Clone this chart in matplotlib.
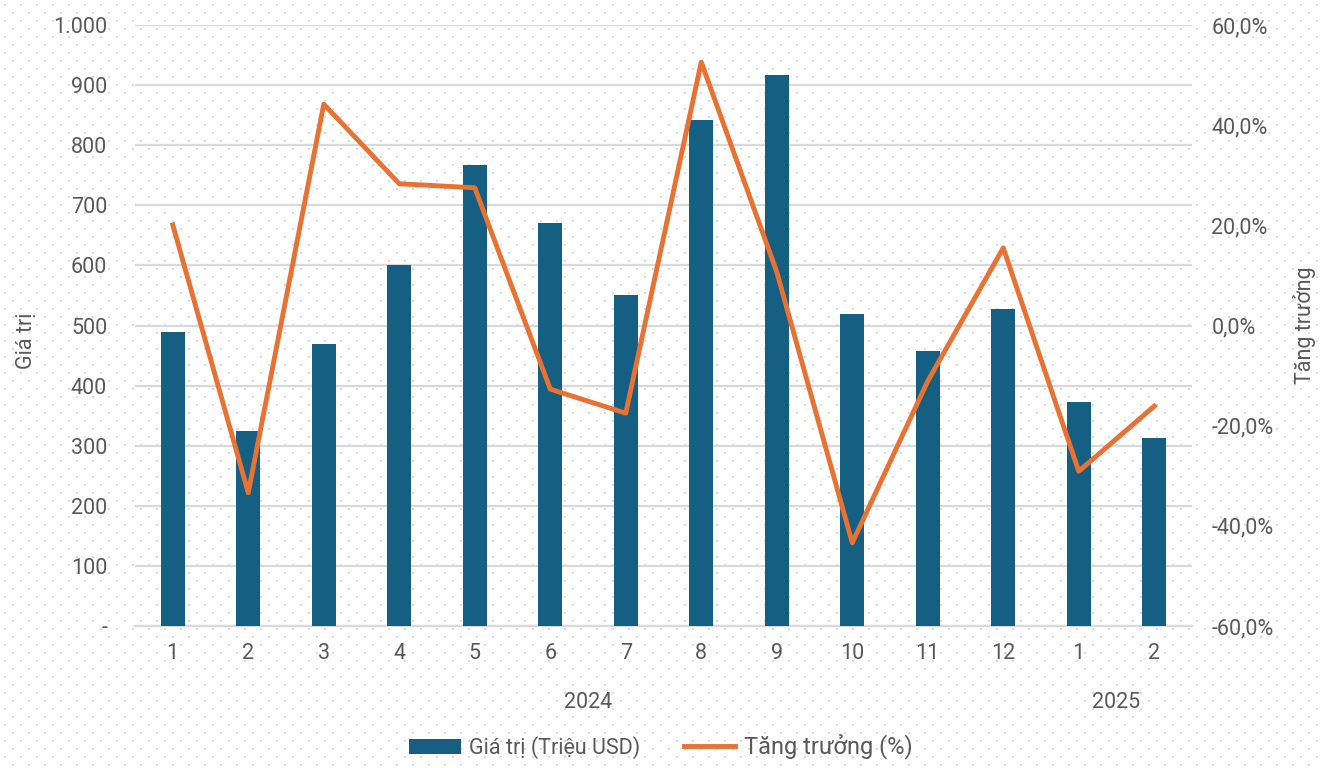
import numpy as np
import matplotlib.pyplot as plt
from matplotlib.ticker import FuncFormatter, MultipleLocator

plt.rcParams['font.family'] = ['Roboto', 'DejaVu Sans']

# Du lieu (doc tu bieu do)
thang = ['1', '2', '3', '4', '5', '6', '7', '8', '9', '10', '11', '12', '1', '2']
nam = ['2024'] * 12 + ['2025'] * 2
gia_tri = [489, 324, 469, 601, 767, 670, 551, 842, 917, 519, 458, 527, 373, 313]
tang_truong = [20.1, -33.4, 44.2, 28.3, 27.5, -12.7, -17.5, 52.6, 10.7, -43.4, -11.1, 15.5, -29.1, -16.1]

mau_cot = '#156082'
mau_duong = '#E97132'
mau_chu = '#595959'
co_chu = 15.5

W, H = 1322, 768
fig = plt.figure(figsize=(W / 100, H / 100), dpi=100)
fig.patch.set_facecolor('white')

# nen cham cham
nen = np.ones((H, W, 3))
cham = np.array([0.82, 0.87, 0.96])
for y in range(4, H, 8):
    lech = 0 if (y // 8) % 2 == 0 else 8
    for x in range(4 + lech, W, 16):
        nen[y:y + 2, x:x + 2] = cham
fig.figimage(nen, 0, 0, zorder=-10)

ax = fig.add_axes([135 / W, 1 - 626 / H, (1192 - 135) / W, (626 - 25) / H])
ax.set_facecolor('none')
x = np.arange(len(thang))

ax.bar(x, gia_tri, width=0.32, color=mau_cot, zorder=3, label='Giá trị (Triệu USD)')
ax.set_xlim(-0.5, len(thang) - 0.5)
ax.set_ylim(0, 1000)
ax.yaxis.set_major_locator(MultipleLocator(100))
ax.yaxis.set_major_formatter(FuncFormatter(
    lambda v, p: '-' if v == 0 else f'{int(v):,}'.replace(',', '.')))
ax.grid(axis='y', color='#d9d9d9', linewidth=1.6, zorder=0)
ax.set_xticks(x)
ax.set_xticklabels(thang)
ax.tick_params(axis='both', length=0, labelsize=co_chu, labelcolor=mau_chu)
ax.tick_params(axis='y', pad=20)
ax.tick_params(axis='x', pad=12)
for s in ['top', 'right', 'left']:
    ax.spines[s].set_visible(False)
ax.spines['bottom'].set_color('#d9d9d9')
ax.spines['bottom'].set_linewidth(1.6)
ax.set_ylabel('Giá trị', fontsize=co_chu, color=mau_chu)
ax.yaxis.set_label_coords(-0.093, 0.475)

ax2 = ax.twinx()
ax2.plot(x, tang_truong, color=mau_duong, linewidth=3.5, zorder=4, label='Tăng trưởng (%)')
ax2.set_ylim(-60, 60)
ax2.yaxis.set_major_locator(MultipleLocator(20))
ax2.yaxis.set_major_formatter(FuncFormatter(lambda v, p: f'{v:.1f}%'.replace('.', ',')))
ax2.tick_params(axis='y', length=0, labelsize=co_chu, labelcolor=mau_chu, pad=14)
for s in ax2.spines.values():
    s.set_visible(False)
ax2.set_ylabel('Tăng trưởng', fontsize=co_chu, color=mau_chu, rotation=90, va='bottom')
ax2.yaxis.set_label_coords(1.117, 0.5)

# nhan nam
for n in dict.fromkeys(nam):
    vt = [i for i, v in enumerate(nam) if v == n]
    ax.text((vt[0] + vt[-1]) / 2, -0.128, n, transform=ax.get_xaxis_transform(),
            ha='center', va='center', fontsize=co_chu, color=mau_chu)

h1, l1 = ax.get_legend_handles_labels()
h2, l2 = ax2.get_legend_handles_labels()
leg = fig.legend(h1 + h2, l1 + l2, loc='lower center', bbox_to_anchor=(0.5, -0.014),
                 ncol=2, frameon=False, fontsize=co_chu, handlelength=2.4,
                 columnspacing=2.0, handletextpad=0.4)
for t in leg.get_texts():
    t.set_color(mau_chu)
leg.get_texts()[1].set_fontsize(17)

fig.savefig('out.png', dpi=100)
